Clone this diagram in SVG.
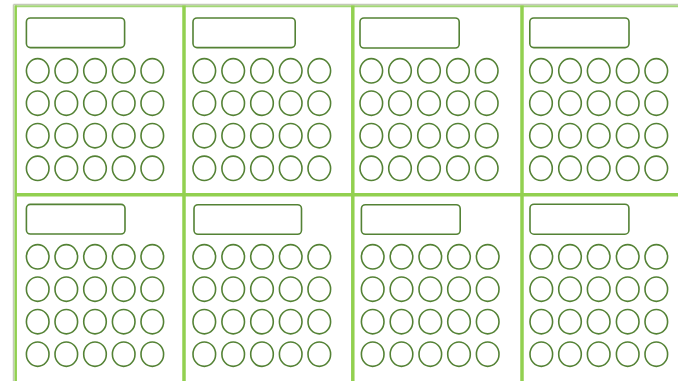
<svg xmlns="http://www.w3.org/2000/svg" width="678" height="381" viewBox="0 0 678 381">
<style>
.k{fill:none;stroke:#548235;stroke-width:1.6}
.d{fill:#fff;stroke:#548235;stroke-width:1.6}
.g{stroke:#92d050;stroke-width:3.5;fill:none}
.s{stroke:#c4c9b8;stroke-width:1.5;fill:none}
</style>
<rect width="678" height="381" fill="#fff"/>
<g id="grid">
<line class="s" x1="13.5" y1="4.5" x2="678" y2="4.5"/>
<line class="s" x1="13.5" y1="4.5" x2="13.5" y2="381"/>
<line x1="15" y1="6.2" x2="678" y2="6.2" stroke="#a3d677" stroke-width="2"/>
<line class="g" x1="15.7" y1="5.5" x2="15.7" y2="381" style="stroke-width:2.5"/>
<line class="g" x1="184" y1="5.5" x2="184" y2="381"/>
<line class="g" x1="352.8" y1="5.5" x2="352.8" y2="381"/>
<line class="g" x1="522" y1="5.5" x2="522" y2="381"/>
<line class="g" x1="15" y1="194.7" x2="678" y2="194.7"/>
</g>
<g id="cell1">
<rect class="d" x="26.4" y="18" width="98.2" height="29.6" rx="4"/>
<ellipse class="k" cx="37.7" cy="70.8" rx="11.3" ry="12.2"/><ellipse class="k" cx="66.3" cy="70.8" rx="11.3" ry="12.2"/><ellipse class="k" cx="95" cy="70.8" rx="11.3" ry="12.2"/><ellipse class="k" cx="123.7" cy="70.8" rx="11.3" ry="12.2"/><ellipse class="k" cx="152.3" cy="70.8" rx="11.3" ry="12.2"/>
<ellipse class="k" cx="37.7" cy="103.2" rx="11.3" ry="12.2"/><ellipse class="k" cx="66.3" cy="103.2" rx="11.3" ry="12.2"/><ellipse class="k" cx="95" cy="103.2" rx="11.3" ry="12.2"/><ellipse class="k" cx="123.7" cy="103.2" rx="11.3" ry="12.2"/><ellipse class="k" cx="152.3" cy="103.2" rx="11.3" ry="12.2"/>
<ellipse class="k" cx="37.7" cy="135.7" rx="11.3" ry="12.2"/><ellipse class="k" cx="66.3" cy="135.7" rx="11.3" ry="12.2"/><ellipse class="k" cx="95" cy="135.7" rx="11.3" ry="12.2"/><ellipse class="k" cx="123.7" cy="135.7" rx="11.3" ry="12.2"/><ellipse class="k" cx="152.3" cy="135.7" rx="11.3" ry="12.2"/>
<ellipse class="k" cx="37.7" cy="168.3" rx="11.3" ry="12.2"/><ellipse class="k" cx="66.3" cy="168.3" rx="11.3" ry="12.2"/><ellipse class="k" cx="95" cy="168.3" rx="11.3" ry="12.2"/><ellipse class="k" cx="123.7" cy="168.3" rx="11.3" ry="12.2"/><ellipse class="k" cx="152.3" cy="168.3" rx="11.3" ry="12.2"/>
</g>
<g id="cell2">
<rect class="d" x="193" y="18" width="102.2" height="29.6" rx="4"/>
<ellipse class="k" cx="204.3" cy="70.8" rx="11.3" ry="12.2"/><ellipse class="k" cx="233.2" cy="70.8" rx="11.3" ry="12.2"/><ellipse class="k" cx="262" cy="70.8" rx="11.3" ry="12.2"/><ellipse class="k" cx="290.7" cy="70.8" rx="11.3" ry="12.2"/><ellipse class="k" cx="319.3" cy="70.8" rx="11.3" ry="12.2"/>
<ellipse class="k" cx="204.3" cy="103.2" rx="11.3" ry="12.2"/><ellipse class="k" cx="233.2" cy="103.2" rx="11.3" ry="12.2"/><ellipse class="k" cx="262" cy="103.2" rx="11.3" ry="12.2"/><ellipse class="k" cx="290.7" cy="103.2" rx="11.3" ry="12.2"/><ellipse class="k" cx="319.3" cy="103.2" rx="11.3" ry="12.2"/>
<ellipse class="k" cx="204.3" cy="135.7" rx="11.3" ry="12.2"/><ellipse class="k" cx="233.2" cy="135.7" rx="11.3" ry="12.2"/><ellipse class="k" cx="262" cy="135.7" rx="11.3" ry="12.2"/><ellipse class="k" cx="290.7" cy="135.7" rx="11.3" ry="12.2"/><ellipse class="k" cx="319.3" cy="135.7" rx="11.3" ry="12.2"/>
<ellipse class="k" cx="204.3" cy="168.3" rx="11.3" ry="12.2"/><ellipse class="k" cx="233.2" cy="168.3" rx="11.3" ry="12.2"/><ellipse class="k" cx="262" cy="168.3" rx="11.3" ry="12.2"/><ellipse class="k" cx="290.7" cy="168.3" rx="11.3" ry="12.2"/><ellipse class="k" cx="319.3" cy="168.3" rx="11.3" ry="12.2"/>
</g>
<g id="cell3">
<rect class="d" x="360" y="18" width="99.2" height="30" rx="4"/>
<ellipse class="k" cx="371.3" cy="70.8" rx="11.3" ry="12.2"/><ellipse class="k" cx="400" cy="70.8" rx="11.3" ry="12.2"/><ellipse class="k" cx="429" cy="70.8" rx="11.3" ry="12.2"/><ellipse class="k" cx="458" cy="70.8" rx="11.3" ry="12.2"/><ellipse class="k" cx="486.7" cy="70.8" rx="11.3" ry="12.2"/>
<ellipse class="k" cx="371.3" cy="103.2" rx="11.3" ry="12.2"/><ellipse class="k" cx="400" cy="103.2" rx="11.3" ry="12.2"/><ellipse class="k" cx="429" cy="103.2" rx="11.3" ry="12.2"/><ellipse class="k" cx="458" cy="103.2" rx="11.3" ry="12.2"/><ellipse class="k" cx="486.7" cy="103.2" rx="11.3" ry="12.2"/>
<ellipse class="k" cx="371.3" cy="135.7" rx="11.3" ry="12.2"/><ellipse class="k" cx="400" cy="135.7" rx="11.3" ry="12.2"/><ellipse class="k" cx="429" cy="135.7" rx="11.3" ry="12.2"/><ellipse class="k" cx="458" cy="135.7" rx="11.3" ry="12.2"/><ellipse class="k" cx="486.7" cy="135.7" rx="11.3" ry="12.2"/>
<ellipse class="k" cx="371.3" cy="168.3" rx="11.3" ry="12.2"/><ellipse class="k" cx="400" cy="168.3" rx="11.3" ry="12.2"/><ellipse class="k" cx="429" cy="168.3" rx="11.3" ry="12.2"/><ellipse class="k" cx="458" cy="168.3" rx="11.3" ry="12.2"/><ellipse class="k" cx="486.7" cy="168.3" rx="11.3" ry="12.2"/>
</g>
<g id="cell4">
<rect class="d" x="529.8" y="18" width="99.2" height="29.6" rx="4"/>
<ellipse class="k" cx="541" cy="70.8" rx="11.3" ry="12.2"/><ellipse class="k" cx="570" cy="70.8" rx="11.3" ry="12.2"/><ellipse class="k" cx="598.7" cy="70.8" rx="11.3" ry="12.2"/><ellipse class="k" cx="627.7" cy="70.8" rx="11.3" ry="12.2"/><ellipse class="k" cx="656.3" cy="70.8" rx="11.3" ry="12.2"/>
<ellipse class="k" cx="541" cy="103.2" rx="11.3" ry="12.2"/><ellipse class="k" cx="570" cy="103.2" rx="11.3" ry="12.2"/><ellipse class="k" cx="598.7" cy="103.2" rx="11.3" ry="12.2"/><ellipse class="k" cx="627.7" cy="103.2" rx="11.3" ry="12.2"/><ellipse class="k" cx="656.3" cy="103.2" rx="11.3" ry="12.2"/>
<ellipse class="k" cx="541" cy="135.7" rx="11.3" ry="12.2"/><ellipse class="k" cx="570" cy="135.7" rx="11.3" ry="12.2"/><ellipse class="k" cx="598.7" cy="135.7" rx="11.3" ry="12.2"/><ellipse class="k" cx="627.7" cy="135.7" rx="11.3" ry="12.2"/><ellipse class="k" cx="656.3" cy="135.7" rx="11.3" ry="12.2"/>
<ellipse class="k" cx="541" cy="168.3" rx="11.3" ry="12.2"/><ellipse class="k" cx="570" cy="168.3" rx="11.3" ry="12.2"/><ellipse class="k" cx="598.7" cy="168.3" rx="11.3" ry="12.2"/><ellipse class="k" cx="627.7" cy="168.3" rx="11.3" ry="12.2"/><ellipse class="k" cx="656.3" cy="168.3" rx="11.3" ry="12.2"/>
</g>
<g id="cell5">
<rect class="d" x="26.4" y="204.4" width="98.6" height="29.6" rx="4"/>
<ellipse class="k" cx="37.7" cy="256.8" rx="11.3" ry="12.2"/><ellipse class="k" cx="66.3" cy="256.8" rx="11.3" ry="12.2"/><ellipse class="k" cx="95" cy="256.8" rx="11.3" ry="12.2"/><ellipse class="k" cx="123.7" cy="256.8" rx="11.3" ry="12.2"/><ellipse class="k" cx="152.3" cy="256.8" rx="11.3" ry="12.2"/>
<ellipse class="k" cx="37.7" cy="289.2" rx="11.3" ry="12.2"/><ellipse class="k" cx="66.3" cy="289.2" rx="11.3" ry="12.2"/><ellipse class="k" cx="95" cy="289.2" rx="11.3" ry="12.2"/><ellipse class="k" cx="123.7" cy="289.2" rx="11.3" ry="12.2"/><ellipse class="k" cx="152.3" cy="289.2" rx="11.3" ry="12.2"/>
<ellipse class="k" cx="37.7" cy="321.7" rx="11.3" ry="12.2"/><ellipse class="k" cx="66.3" cy="321.7" rx="11.3" ry="12.2"/><ellipse class="k" cx="95" cy="321.7" rx="11.3" ry="12.2"/><ellipse class="k" cx="123.7" cy="321.7" rx="11.3" ry="12.2"/><ellipse class="k" cx="152.3" cy="321.7" rx="11.3" ry="12.2"/>
<ellipse class="k" cx="37.7" cy="354.2" rx="11.3" ry="12.2"/><ellipse class="k" cx="66.3" cy="354.2" rx="11.3" ry="12.2"/><ellipse class="k" cx="95" cy="354.2" rx="11.3" ry="12.2"/><ellipse class="k" cx="123.7" cy="354.2" rx="11.3" ry="12.2"/><ellipse class="k" cx="152.3" cy="354.2" rx="11.3" ry="12.2"/>
</g>
<g id="cell6">
<rect class="d" x="194" y="204.7" width="107.5" height="29.6" rx="4"/>
<ellipse class="k" cx="204.3" cy="256.8" rx="11.3" ry="12.2"/><ellipse class="k" cx="233.2" cy="256.8" rx="11.3" ry="12.2"/><ellipse class="k" cx="262" cy="256.8" rx="11.3" ry="12.2"/><ellipse class="k" cx="290.7" cy="256.8" rx="11.3" ry="12.2"/><ellipse class="k" cx="319.3" cy="256.8" rx="11.3" ry="12.2"/>
<ellipse class="k" cx="204.3" cy="289.2" rx="11.3" ry="12.2"/><ellipse class="k" cx="233.2" cy="289.2" rx="11.3" ry="12.2"/><ellipse class="k" cx="262" cy="289.2" rx="11.3" ry="12.2"/><ellipse class="k" cx="290.7" cy="289.2" rx="11.3" ry="12.2"/><ellipse class="k" cx="319.3" cy="289.2" rx="11.3" ry="12.2"/>
<ellipse class="k" cx="204.3" cy="321.7" rx="11.3" ry="12.2"/><ellipse class="k" cx="233.2" cy="321.7" rx="11.3" ry="12.2"/><ellipse class="k" cx="262" cy="321.7" rx="11.3" ry="12.2"/><ellipse class="k" cx="290.7" cy="321.7" rx="11.3" ry="12.2"/><ellipse class="k" cx="319.3" cy="321.7" rx="11.3" ry="12.2"/>
<ellipse class="k" cx="204.3" cy="354.2" rx="11.3" ry="12.2"/><ellipse class="k" cx="233.2" cy="354.2" rx="11.3" ry="12.2"/><ellipse class="k" cx="262" cy="354.2" rx="11.3" ry="12.2"/><ellipse class="k" cx="290.7" cy="354.2" rx="11.3" ry="12.2"/><ellipse class="k" cx="319.3" cy="354.2" rx="11.3" ry="12.2"/>
</g>
<g id="cell7">
<rect class="d" x="361.4" y="204.7" width="98.8" height="29.6" rx="4"/>
<ellipse class="k" cx="372.7" cy="256.8" rx="11.3" ry="12.2"/><ellipse class="k" cx="401.5" cy="256.8" rx="11.3" ry="12.2"/><ellipse class="k" cx="430.3" cy="256.8" rx="11.3" ry="12.2"/><ellipse class="k" cx="459" cy="256.8" rx="11.3" ry="12.2"/><ellipse class="k" cx="487.7" cy="256.8" rx="11.3" ry="12.2"/>
<ellipse class="k" cx="372.7" cy="289.2" rx="11.3" ry="12.2"/><ellipse class="k" cx="401.5" cy="289.2" rx="11.3" ry="12.2"/><ellipse class="k" cx="430.3" cy="289.2" rx="11.3" ry="12.2"/><ellipse class="k" cx="459" cy="289.2" rx="11.3" ry="12.2"/><ellipse class="k" cx="487.7" cy="289.2" rx="11.3" ry="12.2"/>
<ellipse class="k" cx="372.7" cy="321.7" rx="11.3" ry="12.2"/><ellipse class="k" cx="401.5" cy="321.7" rx="11.3" ry="12.2"/><ellipse class="k" cx="430.3" cy="321.7" rx="11.3" ry="12.2"/><ellipse class="k" cx="459" cy="321.7" rx="11.3" ry="12.2"/><ellipse class="k" cx="487.7" cy="321.7" rx="11.3" ry="12.2"/>
<ellipse class="k" cx="372.7" cy="354.2" rx="11.3" ry="12.2"/><ellipse class="k" cx="401.5" cy="354.2" rx="11.3" ry="12.2"/><ellipse class="k" cx="430.3" cy="354.2" rx="11.3" ry="12.2"/><ellipse class="k" cx="459" cy="354.2" rx="11.3" ry="12.2"/><ellipse class="k" cx="487.7" cy="354.2" rx="11.3" ry="12.2"/>
</g>
<g id="cell8">
<rect class="d" x="530" y="204.2" width="98.9" height="30" rx="4"/>
<ellipse class="k" cx="541.3" cy="256.8" rx="11.3" ry="12.2"/><ellipse class="k" cx="570" cy="256.8" rx="11.3" ry="12.2"/><ellipse class="k" cx="598.7" cy="256.8" rx="11.3" ry="12.2"/><ellipse class="k" cx="627.7" cy="256.8" rx="11.3" ry="12.2"/><ellipse class="k" cx="656.3" cy="256.8" rx="11.3" ry="12.2"/>
<ellipse class="k" cx="541.3" cy="289.2" rx="11.3" ry="12.2"/><ellipse class="k" cx="570" cy="289.2" rx="11.3" ry="12.2"/><ellipse class="k" cx="598.7" cy="289.2" rx="11.3" ry="12.2"/><ellipse class="k" cx="627.7" cy="289.2" rx="11.3" ry="12.2"/><ellipse class="k" cx="656.3" cy="289.2" rx="11.3" ry="12.2"/>
<ellipse class="k" cx="541.3" cy="321.7" rx="11.3" ry="12.2"/><ellipse class="k" cx="570" cy="321.7" rx="11.3" ry="12.2"/><ellipse class="k" cx="598.7" cy="321.7" rx="11.3" ry="12.2"/><ellipse class="k" cx="627.7" cy="321.7" rx="11.3" ry="12.2"/><ellipse class="k" cx="656.3" cy="321.7" rx="11.3" ry="12.2"/>
<ellipse class="k" cx="541.3" cy="354.2" rx="11.3" ry="12.2"/><ellipse class="k" cx="570" cy="354.2" rx="11.3" ry="12.2"/><ellipse class="k" cx="598.7" cy="354.2" rx="11.3" ry="12.2"/><ellipse class="k" cx="627.7" cy="354.2" rx="11.3" ry="12.2"/><ellipse class="k" cx="656.3" cy="354.2" rx="11.3" ry="12.2"/>
</g>
</svg>
